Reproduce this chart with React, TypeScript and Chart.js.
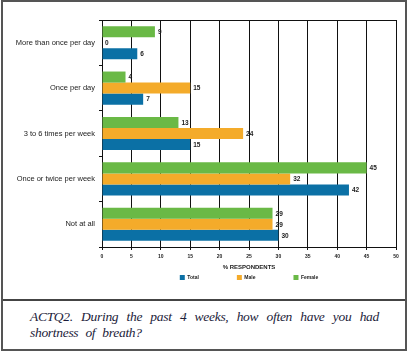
import React, { useEffect, useRef } from "react";
import { Chart, registerables } from "chart.js";

Chart.register(...registerables);

const categories = [
  "More than once per day",
  "Once per day",
  "3 to 6 times per week",
  "Once or twice per week",
  "Not at all",
];
const totalValues = [6, 7, 15, 42, 30];
const maleValues = [0, 15, 24, 32, 29];
const femaleValues = [9, 4, 13, 45, 29];
const seriesNames = ["Total", "Male", "Female"];
const xAxisTitle = "% RESPONDENTS";
const caption =
  "ACTQ2. During the past 4 weeks, how often have you had shortness of breath?";

const BLUE = "#0b70a5";
const ORANGE = "#f4ab2a";
const GREEN = "#6ab946";
const FONT = "'Liberation Sans', Arial, sans-serif";

export default function App() {
  const ref = useRef<HTMLCanvasElement>(null);

  useEffect(() => {
    const canvas = ref.current;
    if (!canvas) return;

    const valueLabels = {
      id: "valueLabels",
      afterDatasetsDraw(chart: any) {
        const ctx = chart.ctx;
        ctx.save();
        ctx.font = `bold 6.5px ${FONT}`;
        ctx.fillStyle = "#222";
        ctx.textAlign = "left";
        ctx.textBaseline = "middle";
        chart.data.datasets.forEach((ds: any, di: number) => {
          const meta = chart.getDatasetMeta(di);
          meta.data.forEach((el: any, i: number) => {
            ctx.fillText(String(ds.data[i]), el.x + 3, el.y + 0.5);
          });
        });
        ctx.restore();
      },
    };

    const frameTop = {
      id: "frameTop",
      afterDraw(chart: any) {
        const { ctx, chartArea } = chart;
        ctx.save();
        ctx.strokeStyle = "#111";
        ctx.lineWidth = 1;
        ctx.beginPath();
        ctx.moveTo(chartArea.left, Math.round(chartArea.top) + 0.5);
        ctx.lineTo(chartArea.right + 0.5, Math.round(chartArea.top) + 0.5);
        ctx.stroke();
        ctx.restore();
      },
    };

    const legendShift = {
      id: "legendShift",
      afterLayout(chart: any) {
        const lg = chart.legend;
        const ca = chart.chartArea;
        if (!lg) return;
        const shift = (ca.left + ca.right) / 2 - (lg.left + lg.right) / 2;
        lg.left += shift;
        lg.right += shift;
        lg.top -= 34;
      },
    };

    const chart = new Chart(canvas, {
      type: "bar",
      data: {
        labels: categories,
        datasets: [
          { label: seriesNames[2], data: femaleValues, backgroundColor: GREEN },
          { label: seriesNames[1], data: maleValues, backgroundColor: ORANGE },
          { label: seriesNames[0], data: totalValues, backgroundColor: BLUE },
        ],
      },
      options: {
        indexAxis: "y",
        responsive: false,
        animation: false,
        devicePixelRatio: 1,
        layout: { padding: { left: 0, right: 9, top: 18, bottom: 14 } },
        datasets: {
          bar: { barPercentage: 1, categoryPercentage: 0.73 },
        },
        plugins: {
          tooltip: { enabled: false },
          legend: {
            display: true,
            position: "bottom",
            reverse: true,
            maxHeight: 14,
            labels: {
              boxWidth: 5,
              boxHeight: 5,
              padding: 38,
              color: "#222",
              font: { family: FONT, size: 5, weight: "bold" },
            },
          },
        },
        scales: {
          x: {
            type: "linear",
            min: 0,
            max: 50,
            ticks: {
              stepSize: 5,
              padding: 4,
              color: "#222",
              font: { family: FONT, size: 5, weight: "bold" },
            },
            grid: { color: "#111", lineWidth: 1, tickLength: 3 },
            border: { color: "#111", width: 1 },
            title: {
              display: true,
              text: xAxisTitle,
              color: "#222",
              font: { family: FONT, size: 6, weight: "bold" },
              padding: { top: 0, bottom: 0 },
            },
            afterFit(scale: any) {
              scale.height = 24;
            },
          },
          y: {
            type: "category",
            ticks: {
              padding: 4,
              color: "#222",
              font: { family: FONT, size: 7.5 },
            },
            grid: {
              offset: true,
              drawOnChartArea: false,
              color: "#111",
              tickLength: 3,
            },
            border: { color: "#111", width: 1 },
            afterFit(scale: any) {
              scale.width = 99;
            },
          },
        },
      },
      plugins: [valueLabels, frameTop, legendShift],
    } as any);

    return () => chart.destroy();
  }, []);

  return (
    <div
      style={{
        position: "absolute",
        left: 1,
        top: 0,
        width: 406,
        height: 351,
        boxSizing: "border-box",
        border: "2px solid #555",
        background: "#fff",
      }}
    >
      <canvas
        ref={ref}
        width={402}
        height={297}
        style={{ display: "block", width: 402, height: 297 }}
      />
      <div
        style={{
          borderTop: "2px solid #444",
          padding: "8px 26px 0 27px",
          fontFamily: "'Liberation Serif', 'DejaVu Serif', serif",
          fontStyle: "italic",
          fontSize: 13.5,
          letterSpacing: "-0.3px",
          wordSpacing: "4px",
          lineHeight: "16px",
          textAlign: "justify",
          color: "#1c1c3a",
        }}
      >
        {caption}
      </div>
    </div>
  );
}
